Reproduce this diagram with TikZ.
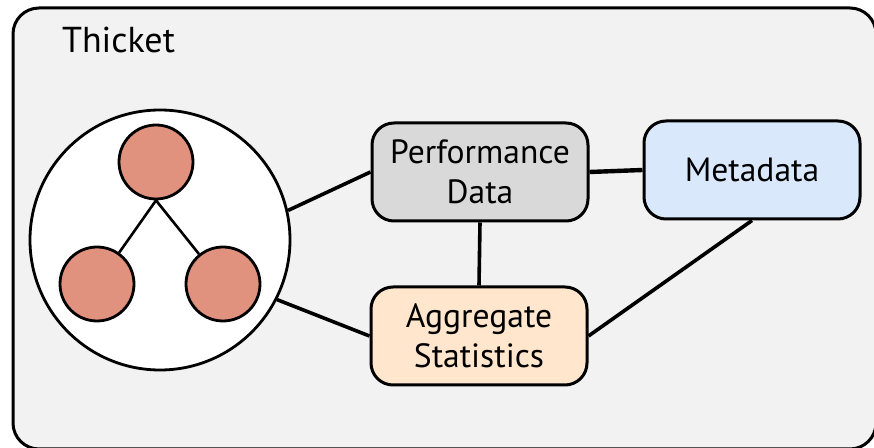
\documentclass[tikz,border=0pt]{standalone}
\usepackage{fontspec}
\setmainfont{PT Sans}
\definecolor{panel}{HTML}{F2F2F2}
\definecolor{perfgray}{HTML}{D9D9D9}
\definecolor{metablue}{HTML}{DAE8FC}
\definecolor{aggorange}{HTML}{FFE6CC}
\definecolor{treenode}{HTML}{E0927E}
\begin{document}
\begin{tikzpicture}[x=.5pt, y=-.5pt, line join=round,
	box/.style={draw, line width=1.5pt, rounded corners=11pt, minimum width=108pt, minimum height=49pt, inner sep=0pt, align=center, font=\fontsize{16.8}{20}\selectfont},
	leaf/.style={circle, draw, line width=1.4pt, fill=treenode, minimum size=37pt, inner sep=0pt},
	link/.style={line width=1.8pt}]
	\def\W{874} % picture width
	\def\H{448} % picture height
	\useasboundingbox (0,0) rectangle (\W,\H);
	\clip (0,0) rectangle (\W,\H);
	\draw[line width=1.5pt, fill=panel, rounded corners=13pt] (13,8) rectangle (876,449);
	\node[anchor=base west, font=\fontsize{18}{22}\selectfont] (title) at (55,53) {Thicket};
	% the call tree
	\node[circle, draw, line width=1.4pt, fill=white, minimum size=130pt, inner sep=0pt] (tree) at (160,240) {};
	\node[leaf] (root) at (156,162) {};
	\node[leaf] (left) at (97,284) {};
	\node[leaf] (right) at (223,284) {};
	\foreach \con in {left,right} \draw[line width=1.3pt] (root.south)--(\con);
	% the three frames
	\node[box, fill=perfgray] (perf) at (480,172) {Performance\\Data};
	\node[box, fill=metablue] (meta) at (752,170) {Metadata};
	\node[box, fill=aggorange] (agg) at (479,336) {Aggregate\\Statistics};
	\draw[link] (tree.13)--(perf.west);
	\draw[link] (tree.-27)--(agg.west);
	\draw[link, line width=2.2pt] (perf.east)--(meta.west);
	\draw[link] (perf.south)--(agg.north);
	\draw[link] (meta.south)--(agg.east);
\end{tikzpicture}
\end{document}
